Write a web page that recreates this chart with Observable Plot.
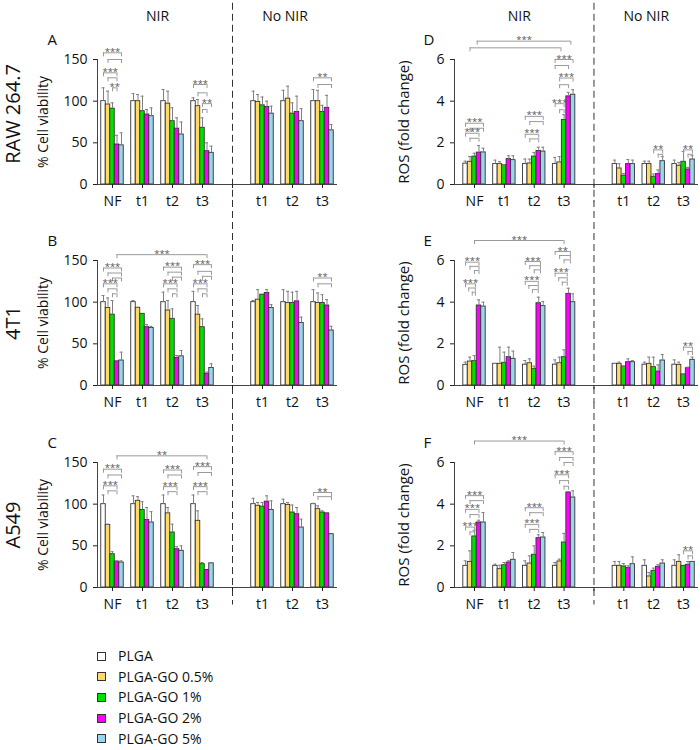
<!DOCTYPE html>
<html><head><meta charset="utf-8">
<script src="https://cdn.jsdelivr.net/npm/d3@7"></script>
<script src="https://cdn.jsdelivr.net/npm/@observablehq/plot@0.6"></script>
<style>
body{margin:0;background:#fff;font-family:"Open Sans",sans-serif;}
#wrap{position:relative;width:700px;height:750px;overflow:hidden;background:#fff;}
.pan{position:absolute;}
g[aria-label="cell-name"] text{text-decoration:underline;}
#legend{position:absolute;left:97px;top:646px;font-size:14px;line-height:16px;color:#111;}
.row{height:20.6px;display:flex;align-items:center;}
.sw{width:7px;height:7px;border:1px solid #333;margin-right:12px;}
</style></head><body><div id="wrap"></div>
<script>
// ---------- categories ----------
const groups = ["PLGA", "PLGA-GO 0.5%", "PLGA-GO 1%", "PLGA-GO 2%", "PLGA-GO 5%"];
const colors = ["#ffffff", "#ffd966", "#00e000", "#ff00ff", "#9dd3ee"];
const slotLabels = ["NF", "t1", "t2", "t3", "", "t1", "t2", "t3"];
const slotOfGroup = [0, 1, 2, 3, 5, 6, 7];   // NIR: NF,t1,t2,t3 | No NIR: t1,t2,t3
const dividerSlot = 4;
const conditions = ["NIR", "No NIR"];
const cellLines = ["RAW 264.7", "4T1", "A549"];
const viabilityTicks = [0, 50, 100, 150];
const rosTicks = [0, 2, 4, 6];

// ---------- % cell viability (rows = NF,t1,t2,t3 NIR, t1,t2,t3 No NIR; cols = groups) ----------
const valsA = [[100,96,91,48,47],[100,100,88,84,82],[100,97,76,67,60],[100,94,68,40,38],
               [100,99,95,93,85],[100,103,85,87,76],[100,100,87,92,65]];
const sdA   = [[16,16,7,11,15],[9,8,18,6,10],[14,15,16,13,15],[4,8,12,10,8],
               [12,9,10,7,9],[13,15,13,19,15],[14,13,8,15,7]];
const valsB = [[100,93,85,29,30],[100,93,86,70,69],[100,90,80,33,35],[100,85,70,14,21],
               [100,103,109,111,93],[100,99,99,101,75],[100,99,99,96,66]];
const sdB   = [[8,12,17,1,10],[2,1,0,3,2],[12,12,12,3,7],[13,11,10,2,5],
               [2,12,0,4,4],[15,14,13,12,7],[15,12,10,7,5]];
const valsC = [[100,75,40,31,30],[100,104,93,81,78],[100,89,66,46,44],[100,80,28,21,29],
               [100,98,97,103,93],[100,99,90,88,72],[100,94,90,89,64]];
const sdC   = [[11,1,3,1,2],[10,5,10,15,13],[11,7,10,3,6],[11,12,2,0,0],
               [7,4,5,7,11],[6,3,9,8,10],[1,4,2,0,0]];
// ---------- ROS fold change ----------
const valsD = [[1.0,1.09,1.34,1.53,1.54],[0.98,0.98,0.93,1.22,1.17],[0.98,1.01,1.34,1.61,1.58],[0.98,1.06,3.1,4.23,4.31],
               [0.98,0.77,0.42,0.98,0.98],[0.98,0.98,0.37,0.5,1.12],[0.98,0.9,1.09,0.72,1.2]];
const sdD   = [[0.12,0.25,0.16,0.34,0.2],[0.19,0.12,0.03,0.16,0.21],[0.24,0.21,0.2,0.18,0.21],[0.32,0.28,0.25,0.19,0.24],
               [0.19,0.23,0.11,0.22,0.19],[0.14,0.14,0.13,0.2,0.22],[0.19,0.16,0.49,0.1,0.18]];
const valsE = [[0.99,1.15,1.17,3.84,3.79],[1.04,1.04,1.09,1.36,1.28],[1.0,1.07,0.8,3.95,3.81],[1.0,1.07,1.36,4.4,4.0],
               [1.04,1.04,0.91,1.12,1.12],[1.0,1.04,0.88,0.67,1.2],[1.0,0.99,0.53,0.83,1.23]];
const sdE   = [[0.13,0.21,0.27,0.27,0.21],[0.02,0.8,0.51,0.48,0.37],[0.2,0.21,0.13,0.29,0.22],[0.23,0.29,0.35,0.27,0.4],
               [0.02,0.08,0.02,0.16,0.08],[0.12,0.32,0.48,0.32,0.29],[0.23,0.13,0.02,0.05,0.13]];
const valsF = [[1.04,1.23,2.45,3.12,3.12],[1.04,0.88,1.07,1.2,1.33],[1.04,1.15,1.57,2.37,2.4],[1.04,1.25,2.16,4.56,4.32],
               [1.04,1.04,1.01,0.93,1.12],[1.04,0.53,0.8,0.99,1.15],[1.04,1.23,1.04,1.09,1.23]];
const sdF   = [[0.24,0.53,0.3,0.11,0.48],[0.08,0.19,0.13,0.08,0.35],[0.24,0.37,0.43,0.16,0.24],[0.16,0.11,0.44,0.04,0.32],
               [0.21,0.21,0.14,0.11,0.35],[0.29,0.19,0.13,0.1,0.18],[0.29,0.34,0,0.16,0]];

// ---------- significance brackets: [slotFrom, barFrom, slotTo, barTo, level, label] ----------
const brA = [[0,0,0,4,158,"***"],[0,1,0,4,150,""],[0,0,0,3,134,"***"],[0,1,0,3,128,""],[0,2,0,3,116,"**"],
             [3,0,3,3,120,"***"],[3,1,3,3,110,""],[3,2,3,4,97,"**"],[3,2,3,3,90,""],
             [7,0,7,4,128,"**"],[7,1,7,4,120,""]];
const brB = [[0,3,3,3,157,"***"],
             [0,0,0,4,141,"***"],[0,1,0,4,135,""],[0,2,0,4,129,""],[0,0,0,3,122,"***"],[0,1,0,3,116,""],[0,2,0,3,110,""],
             [2,0,2,4,142,"***"],[2,1,2,4,136,""],[2,2,2,4,130,""],[2,0,2,3,122,"***"],[2,1,2,3,116,""],[2,2,2,3,110,""],
             [3,0,3,4,145,"***"],[3,1,3,4,137,""],[3,2,3,4,131,""],[3,0,3,3,122,"***"],[3,1,3,3,116,""],[3,2,3,3,110,""],
             [7,0,7,4,129,"**"],[7,1,7,4,122,""]];
const brC = [[0,3,3,3,158,"**"],
             [0,0,0,4,142,"***"],[0,1,0,4,135,""],[0,0,0,3,122,"***"],[0,1,0,3,116,""],
             [2,0,2,4,141,"***"],[2,1,2,4,135,""],[2,0,2,3,121,"***"],[2,1,2,3,115,""],
             [3,0,3,4,145,"***"],[3,1,3,4,138,""],[3,0,3,3,121,"***"],[3,1,3,3,115,""],
             [7,0,7,4,114,"**"],[7,1,7,4,109,""]];
const brD = [[0,2.6,3,3.5,6.88,"***"],[0,1,3,1.3,6.56,""],
             [0,0,0,4,2.94,"***"],[0,1,0,4,2.70,""],[0,0,0,3,2.46,"***"],[0,1,0,3,2.22,""],
             [2,0,2,4,3.27,"***"],[2,1,2,4,3.02,""],[2,0,2,3,2.41,"***"],[2,1,2,3,2.19,""],
             [3,0,3,4,6.0,"***"],[3,0,3,3,5.71,""],[3,1,3,4,5.11,"***"],[3,1,3,3,4.79,""],[3,0,3,2,3.88,"***"],[3,1,3,2,3.59,""],
             [6,2,6,4,1.66,"**"],[6,3,6,4,1.45,""],[7,2,7,4,1.66,"**"],[7,3,7,4,1.45,""]];
const brE = [[0,2,3,2,6.96,"***"],
             [0,0,0,3,5.92,"***"],[0,1,0,3,5.72,""],[0,2,0,3,5.52,""],[0,0,0,2.2,4.88,"***"],[0,0.7,0,2.2,4.68,""],[0,1.5,0,2.2,4.48,""],
             [2,0,2,3.4,5.95,"***"],[2,1,2,3.4,5.75,""],[2,2,2,3.4,5.55,""],[2,0,2,2.9,5.0,"***"],[2,0.8,2,2.9,4.8,""],[2,1.6,2,2.9,4.6,""],
             [3,0,3,3.4,6.43,"**"],[3,1,3,3.4,6.24,""],[3,2,3,3.4,6.03,""],[3,0,3,2.7,5.39,"***"],[3,0.8,3,2.7,5.17,""],[3,1.6,3,2.7,4.96,""],
             [7,2,7,4,1.84,"**"],[7,3,7,4,1.63,""]];
const brF = [[0,2,3,2,7.03,"***"],
             [0,0,0,4,4.41,"***"],[0,1,0,4,4.17,""],[0,0,0,3,3.75,"***"],[0,1,0,3,3.5,""],[0,0,0,2,2.9,"***"],[0,1,0,2,2.67,""],
             [2,0,2,4,3.83,"***"],[2,1,2,4,3.59,""],[2,0,2,3,3.03,"***"],[2,1,2,3,2.79,""],
             [3,0,3,4,6.52,"***"],[3,1,3,4,6.24,""],[3,2,3,4,6.0,""],[3,0,3,3,5.41,"***"],[3,1,3,3,5.13,""],[3,2,3,3,4.86,""],
             [7,2,7,4,1.76,"**"],[7,3,7,4,1.52,""]];

const panels = [
  {id:"A", row:0, col:0, vals:valsA, sd:sdA, br:brA, ticks:viabilityTicks, title:"% Cell viability"},
  {id:"B", row:1, col:0, vals:valsB, sd:sdB, br:brB, ticks:viabilityTicks, title:"% Cell viability"},
  {id:"C", row:2, col:0, vals:valsC, sd:sdC, br:brC, ticks:viabilityTicks, title:"% Cell viability"},
  {id:"D", row:0, col:1, vals:valsD, sd:sdD, br:brD, ticks:rosTicks, title:"ROS (fold change)"},
  {id:"E", row:1, col:1, vals:valsE, sd:sdE, br:brE, ticks:rosTicks, title:"ROS (fold change)"},
  {id:"F", row:2, col:1, vals:valsF, sd:sdF, br:brF, ticks:rosTicks, title:"ROS (fold change)"}
];

const rowTops = [0, 201, 403];
const FONT = "'Open Sans', sans-serif";
const wrap = document.getElementById("wrap");

function drawPanel(p) {
  const left = p.col === 0;
  const yMax = d3.max(p.ticks);
  const mt = 59, plotH = 125, H = 215;
  const ml = left ? 97 : 104, mr = left ? 13 : 2;
  const xDom = left ? [-0.5, 7.5] : [-0.67, 7.5];
  const bw = 0.15;
  const bx = (s, b) => s + (b - 2) * bw;
  const bars = [];
  p.vals.forEach((row, g) => row.forEach((v, b) =>
    bars.push({x: bx(slotOfGroup[g], b), v, sd: p.sd[g][b], fill: colors[b]})));
  const errs = bars.filter(d => d.sd > 0);
  const br = p.br.map(([s1, b1, s2, b2, y, label]) => ({x1: bx(s1, b1), x2: bx(s2, b2), y, label}));
  const legLen = yMax * 4 / plotH;
  const legs = br.flatMap(d => [{x: d.x1, y: d.y}, {x: d.x2, y: d.y}]);
  const nirCenter = d3.mean(slotOfGroup.filter(s => s < dividerSlot));
  const noNirCenter = (dividerSlot + xDom[1]) / 2;

  const marks = [
    Plot.ruleX([dividerSlot], {y1: yMax * (p.row === 0 ? 1.45 : 1.48), y2: -yMax * 0.14,
      stroke: "#333", strokeDasharray: "7,4", strokeWidth: 1}),
    Plot.rect(bars, {x1: d => d.x - bw / 2, x2: d => d.x + bw / 2, y1: 0, y2: "v",
      fill: "fill", stroke: "#333", strokeWidth: 0.9}),
    Plot.ruleX(errs, {x: "x", y1: "v", y2: d => d.v + d.sd, stroke: "#808080", strokeWidth: 1}),
    Plot.ruleY(errs, {x1: d => d.x - 0.05, x2: d => d.x + 0.05, y: d => d.v + d.sd, stroke: "#808080", strokeWidth: 1}),
    Plot.ruleY([0], {stroke: "#444"}),
    Plot.ruleX([xDom[0]], {y1: 0, y2: yMax, stroke: "#444"}),
    Plot.axisX({ticks: d3.range(8), tickFormat: i => slotLabels[i], tickSize: 4, tickPadding: 8,
      fontSize: 14, label: null, fill: "#111"}),
    Plot.axisY({ticks: p.ticks, tickFormat: d => String(d), tickSize: 4, tickPadding: 6,
      fontSize: 14, label: null, fill: "#111"}),
    Plot.ruleY(br, {x1: "x1", x2: "x2", y: "y", stroke: "#9a9a9a", strokeWidth: 1}),
    Plot.ruleX(legs, {x: "x", y1: "y", y2: d => d.y - legLen, stroke: "#9a9a9a", strokeWidth: 1}),
    Plot.text(br.filter(d => d.label), {x: d => (d.x1 + d.x2) / 2, y: "y", text: "label",
      fontSize: 9.5, fill: "#555", dy: -1}),
    Plot.text([p.id], {frameAnchor: "top-left", textAnchor: "start", lineAnchor: "middle",
      dx: left ? -50 : -31, dy: -19, fontSize: 15, fill: "#111"}),
    Plot.text([p.title], {frameAnchor: "left", textAnchor: "middle", lineAnchor: "middle", rotate: -90,
      dx: left ? -54 : -50, fontSize: left ? 14 : 15, fill: "#111"})
  ];
  if (p.row === 0) {
    marks.push(Plot.text(conditions, {x: (d, i) => i === 0 ? nirCenter : noNirCenter,
      frameAnchor: "top", lineAnchor: "middle", dy: -43, fontSize: 14, fill: "#111"}));
  }
  if (left) {
    marks.push(Plot.text([cellLines[p.row]], {frameAnchor: "left", textAnchor: "middle", lineAnchor: "middle",
      rotate: -90, dx: -84, dy: p.row === 0 ? -8 : 0, fontSize: 20, fill: "#111", ariaLabel: "cell-name"}));
  }

  const svg = Plot.plot({
    width: 350, height: H,
    marginLeft: ml, marginRight: mr, marginTop: mt, marginBottom: H - mt - plotH,
    x: {domain: xDom},
    y: {domain: [0, yMax]},
    color: {type: "identity"},
    style: {fontFamily: FONT, fontSize: "14px", background: "transparent", overflow: "visible", color: "#222"},
    marks
  });
  const div = document.createElement("div");
  div.className = "pan";
  div.style.left = (p.col * 350) + "px";
  div.style.top = rowTops[p.row] + "px";
  div.appendChild(svg);
  wrap.appendChild(div);
}
panels.forEach(drawPanel);

// ---------- legend ----------
const legend = document.createElement("div");
legend.id = "legend";
groups.forEach((g, i) => {
  const row = document.createElement("div");
  row.className = "row";
  const sw = document.createElement("span");
  sw.className = "sw";
  sw.style.background = colors[i];
  const t = document.createElement("span");
  t.textContent = g;
  row.appendChild(sw); row.appendChild(t);
  legend.appendChild(row);
});
wrap.appendChild(legend);
</script>
</body></html>
